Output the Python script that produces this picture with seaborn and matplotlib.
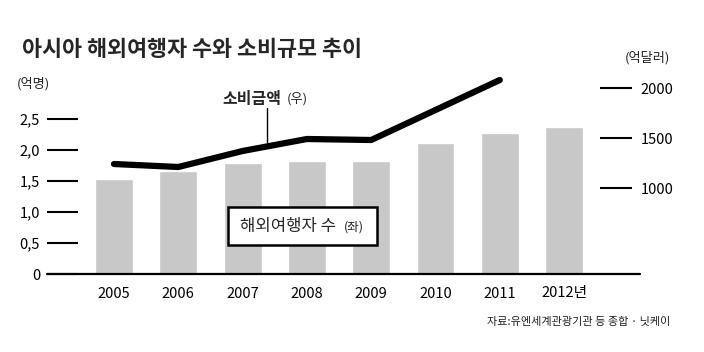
import numpy as np
import matplotlib
matplotlib.use("Agg")
import matplotlib.pyplot as plt
import seaborn as sns

# ---- data ----
years = ["2005", "2006", "2007", "2008", "2009", "2010", "2011", "2012"]
year_labels = ["2005", "2006", "2007", "2008", "2009", "2010", "2011", "2012년"]
travelers = [1.53, 1.65, 1.79, 1.81, 1.81, 2.10, 2.26, 2.37]          # 억명 (left)
spending = [1240, 1210, 1370, 1490, 1480, 1780, 2080]                 # 억달러 (right), 2005-2011
left_ticks = [0, 0.5, 1.0, 1.5, 2.0, 2.5]
left_tick_labels = ["0", "0,5", "1,0", "1,5", "2,0", "2,5"]
right_ticks = [1000, 1500, 2000]
right_tick_labels = ["1000", "1500", "2000"]

title = "아시아 해외여행자 수와 소비규모 추이"
source = "자료:유엔세계관광기관 등 종합 · 닛케이"

sns.set_style("white")
plt.rcParams["font.family"] = ["Liberation Sans Narrow", "Noto Sans CJK KR", "DejaVu Sans"]
KR = ["Noto Sans CJK KR", "DejaVu Sans"]

W, H = 704, 352
fig = plt.figure(figsize=(W / 100, H / 100), dpi=100)
fig.patch.set_facecolor("white")

ax_l, ax_r, ax_b, ax_t = 47, 632, 274, 40
ax = fig.add_axes([ax_l / W, 1 - ax_b / H, (ax_r - ax_l) / W, (ax_b - ax_t) / H])

sns.barplot(x=years, y=travelers, color="#c8c8c8", saturation=1, width=0.59, ax=ax, zorder=1)

px_per_cat = 64.3
x0_px = 114
ax.set_xlim((ax_l - x0_px) / px_per_cat, (ax_r - x0_px) / px_per_cat)
ax.set_ylim(0, (ax_b - ax_t) / 62.2)

for s in ax.spines.values():
    s.set_visible(False)
ax.axhline(0, xmin=0, xmax=(640 - ax_l) / (ax_r - ax_l), color="black", lw=1.6, clip_on=False, zorder=3)

ax.set_yticks(left_ticks)
ax.set_yticklabels(left_tick_labels)
ax.tick_params(axis="y", direction="in", length=22.5, width=1.5, pad=5, labelsize=10.5, colors="black", left=True)
ax.set_xticks(range(len(years)))
ax.set_xticklabels(year_labels)
ax.tick_params(axis="x", length=0, pad=9, labelsize=10.5, colors="black")
ax.set_xlabel("")
ax.set_ylabel("")

# right axis line
ax2 = ax.twinx()
sns.lineplot(x=np.arange(len(spending)), y=spending, color="black", lw=4.5, ax=ax2,
             solid_capstyle="round", solid_joinstyle="round", zorder=5)
ax2.set_ylim(1000 - (ax_b - 188) * 10, 2000 + (88 - ax_t) * 10)
for s in ax2.spines.values():
    s.set_visible(False)
ax2.set_yticks(right_ticks)
ax2.set_yticklabels(right_tick_labels)
ax2.tick_params(axis="y", direction="in", length=23, width=1.5, pad=6, labelsize=10.5, colors="black", right=True)
ax2.set_ylabel("")
ax2.set_xlabel("")

# texts
fig.text(22 / W, 1 - 50 / H, title, fontsize=15.7, fontweight="bold", family=KR, va="center", ha="left")
fig.text(17 / W, 1 - 84 / H, "(억명)", fontsize=9.5, family=KR, va="center", ha="left", color="#222222")
fig.text(625 / W, 1 - 58 / H, "(억달러)", fontsize=9.5, family=KR, va="center", ha="left", color="#222222")
fig.text(670 / W, 1 - 322 / H, source, fontsize=8, family=KR, va="center", ha="right", color="#222222")

# annotation for spending line
fig.text(222 / W, 1 - 99 / H, "소비금액", fontsize=11.5, fontweight="bold", family=KR, va="center", ha="left")
fig.text(287 / W, 1 - 99 / H, "(우)", fontsize=9.5, family=KR, va="center", ha="left")
fig.add_artist(plt.Line2D([267 / W, 267 / W], [1 - 108 / H, 1 - 143 / H], color="black", lw=1.0))

# label box for travelers
fig.patches.append(plt.Rectangle((228 / W, 1 - 245 / H), (377 - 228) / W, (245 - 207) / H,
                                 transform=fig.transFigure, facecolor="white", edgecolor="black",
                                 lw=1.8, zorder=10, figure=fig))
fig.text(240 / W, 1 - 227 / H, "해외여행자 수", fontsize=12, fontweight="medium", family=KR,
         va="center", ha="left", zorder=11)
fig.text(344 / W, 1 - 227 / H, "(좌)", fontsize=9, family=KR, va="center", ha="left", zorder=11)

fig.savefig("out.png", dpi=100, facecolor="white")
